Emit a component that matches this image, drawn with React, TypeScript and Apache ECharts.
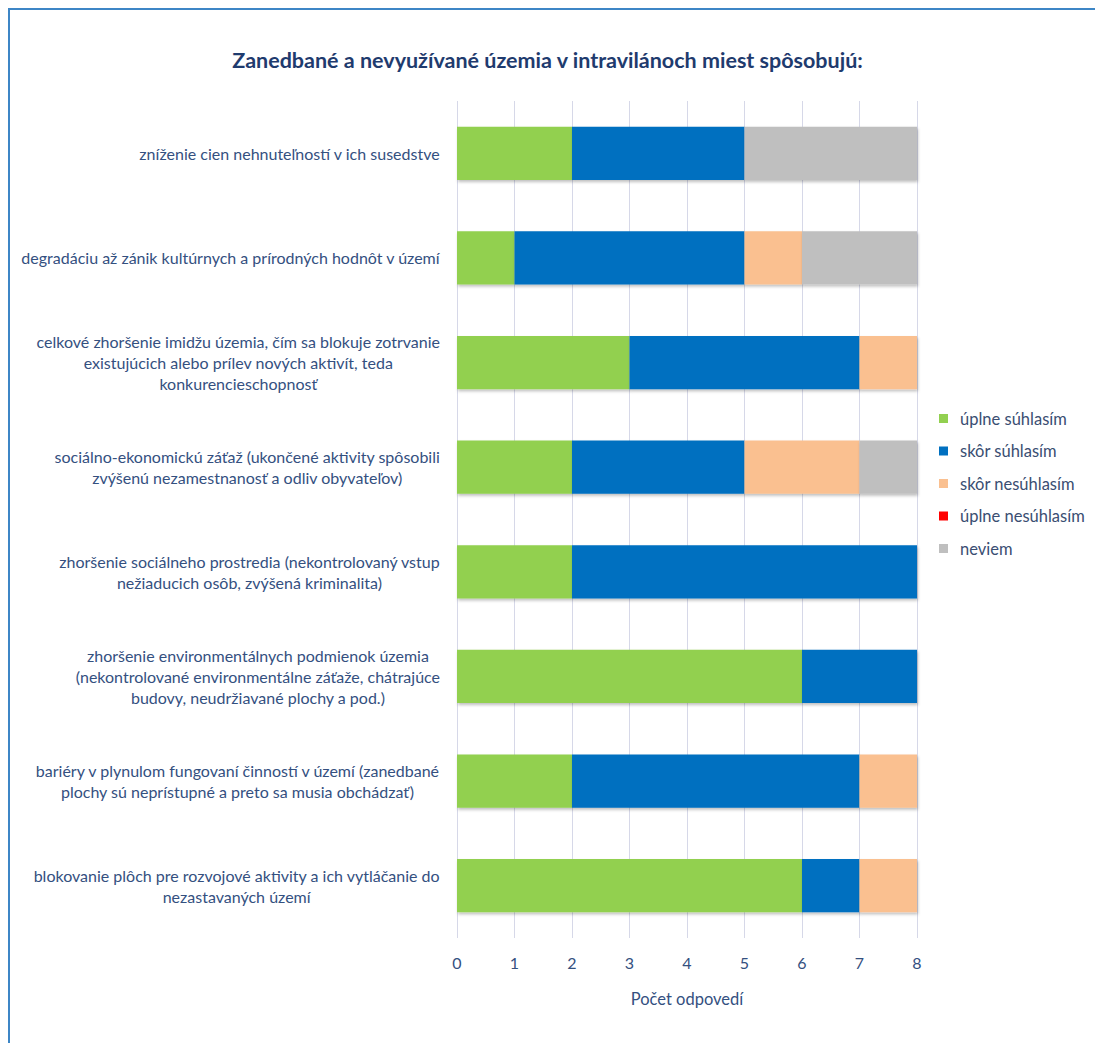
import React, { useEffect, useRef } from "react";
import * as echarts from "echarts";

const TITLE = "Zanedbané a nevyužívané územia v intravilánoch miest spôsobujú:";
const AXIS_NAME = "Počet odpovedí";

const categories = [
  "zníženie cien nehnuteľností v ich susedstve",
  "degradáciu až zánik kultúrnych a prírodných hodnôt v území",
  "celkové zhoršenie imidžu územia, čím sa blokuje zotrvanie\nexistujúcich alebo prílev nových aktivít, teda\nkonkurencieschopnosť",
  "sociálno-ekonomickú záťaž (ukončené aktivity spôsobili\nzvýšenú nezamestnanosť a odliv obyvateľov)",
  "zhoršenie sociálneho prostredia (nekontrolovaný vstup\nnežiaducich osôb, zvýšená kriminalita)",
  "zhoršenie environmentálnych podmienok územia\n(nekontrolované environmentálne záťaže, chátrajúce\nbudovy, neudržiavané plochy a pod.)",
  "bariéry v plynulom fungovaní činností v území (zanedbané\nplochy sú neprístupné a preto sa musia obchádzať)",
  "blokovanie plôch pre rozvojové aktivity a ich vytláčanie do\nnezastavaných území",
];

const seriesNames = [
  "úplne súhlasím",
  "skôr súhlasím",
  "skôr nesúhlasím",
  "úplne nesúhlasím",
  "neviem",
];

const uplneSuhlasim = [2, 1, 3, 2, 2, 6, 2, 6];
const skorSuhlasim = [3, 4, 4, 3, 6, 2, 5, 1];
const skorNesuhlasim = [0, 1, 1, 2, 0, 0, 1, 1];
const uplneNesuhlasim = [0, 0, 0, 0, 0, 0, 0, 0];
const neviem = [3, 2, 0, 1, 0, 0, 0, 0];

const xTicks = [0, 1, 2, 3, 4, 5, 6, 7, 8];

const colors = ["#92D050", "#0070C0", "#FAC090", "#FF0000", "#BFBFBF"];

export default function App() {
  const ref = useRef<HTMLDivElement>(null);

  useEffect(() => {
    if (!ref.current) return;
    const chart = echarts.init(ref.current, null, { renderer: "svg" });
    const values = [uplneSuhlasim, skorSuhlasim, skorNesuhlasim, uplneNesuhlasim, neviem];
    const font = "Lato, 'Noto Sans', sans-serif";
    const labelColor = "#34507F";

    chart.setOption({
      animation: false,
      backgroundColor: "#ffffff",
      textStyle: { fontFamily: font },
      title: {
        text: TITLE,
        left: "center",
        top: 44,
        textStyle: {
          fontFamily: font,
          fontSize: 21.5,
          fontWeight: "bold",
          color: "#1F3B6E",
        },
      },
      graphic: [
        {
          type: "rect",
          shape: { x: 9, y: 9, width: 1100, height: 1100 },
          style: { fill: "none", stroke: "#3D86C6", lineWidth: 2 },
          silent: true,
        },
      ],
      legend: {
        orient: "vertical",
        left: 934,
        top: 405,
        itemWidth: 9,
        itemHeight: 9,
        itemGap: 15.5,
        icon: "rect",
        textStyle: {
          fontFamily: font,
          fontSize: 16.5,
          color: "#3A4E72",
          lineHeight: 17,
          padding: [0, 0, 0, 7],
        },
        data: seriesNames,
      },
      grid: { left: 457, right: 178, top: 101, bottom: 105, containLabel: false },
      xAxis: {
        type: "value",
        min: xTicks[0],
        max: xTicks[xTicks.length - 1],
        interval: 1,
        name: AXIS_NAME,
        nameLocation: "middle",
        nameGap: 52,
        nameTextStyle: { fontFamily: font, fontSize: 16.5, color: labelColor },
        axisLine: { show: false },
        axisTick: { show: false },
        axisLabel: { margin: 16, fontFamily: font, fontSize: 16, color: labelColor },
        splitLine: { show: true, lineStyle: { color: "#D6D8E8", width: 1 } },
      },
      yAxis: {
        type: "category",
        inverse: true,
        data: categories,
        axisLine: { show: false },
        axisTick: { show: false },
        axisLabel: {
          margin: 17,
          fontFamily: font,
          fontSize: 16,
          color: labelColor,
          lineHeight: 21,
          formatter: (v: string) =>
            v
              .split("\n")
              .map((l) => "{c|" + l + "}")
              .join("\n"),
          rich: {
            c: {
              align: "center",
              fontFamily: font,
              fontSize: 16,
              color: labelColor,
              lineHeight: 21,
            },
          },
        },
        splitLine: { show: false },
      },
      series: seriesNames.map((name, i) => ({
        name,
        type: "bar",
        stack: "total",
        barCategoryGap: "49%",
        data: values[i].map((v) => (v === 0 ? "-" : v)),
        itemStyle: {
          color: colors[i],
          shadowBlur: 3,
          shadowOffsetY: 2,
          shadowOffsetX: 1,
          shadowColor: "rgba(0,0,0,0.25)",
        },
      })),
    });

    return () => {
      chart.dispose();
    };
  }, []);

  return (
    <div
      ref={ref}
      style={{ position: "fixed", left: 0, top: 0, width: 1095, height: 1043 }}
    />
  );
}
